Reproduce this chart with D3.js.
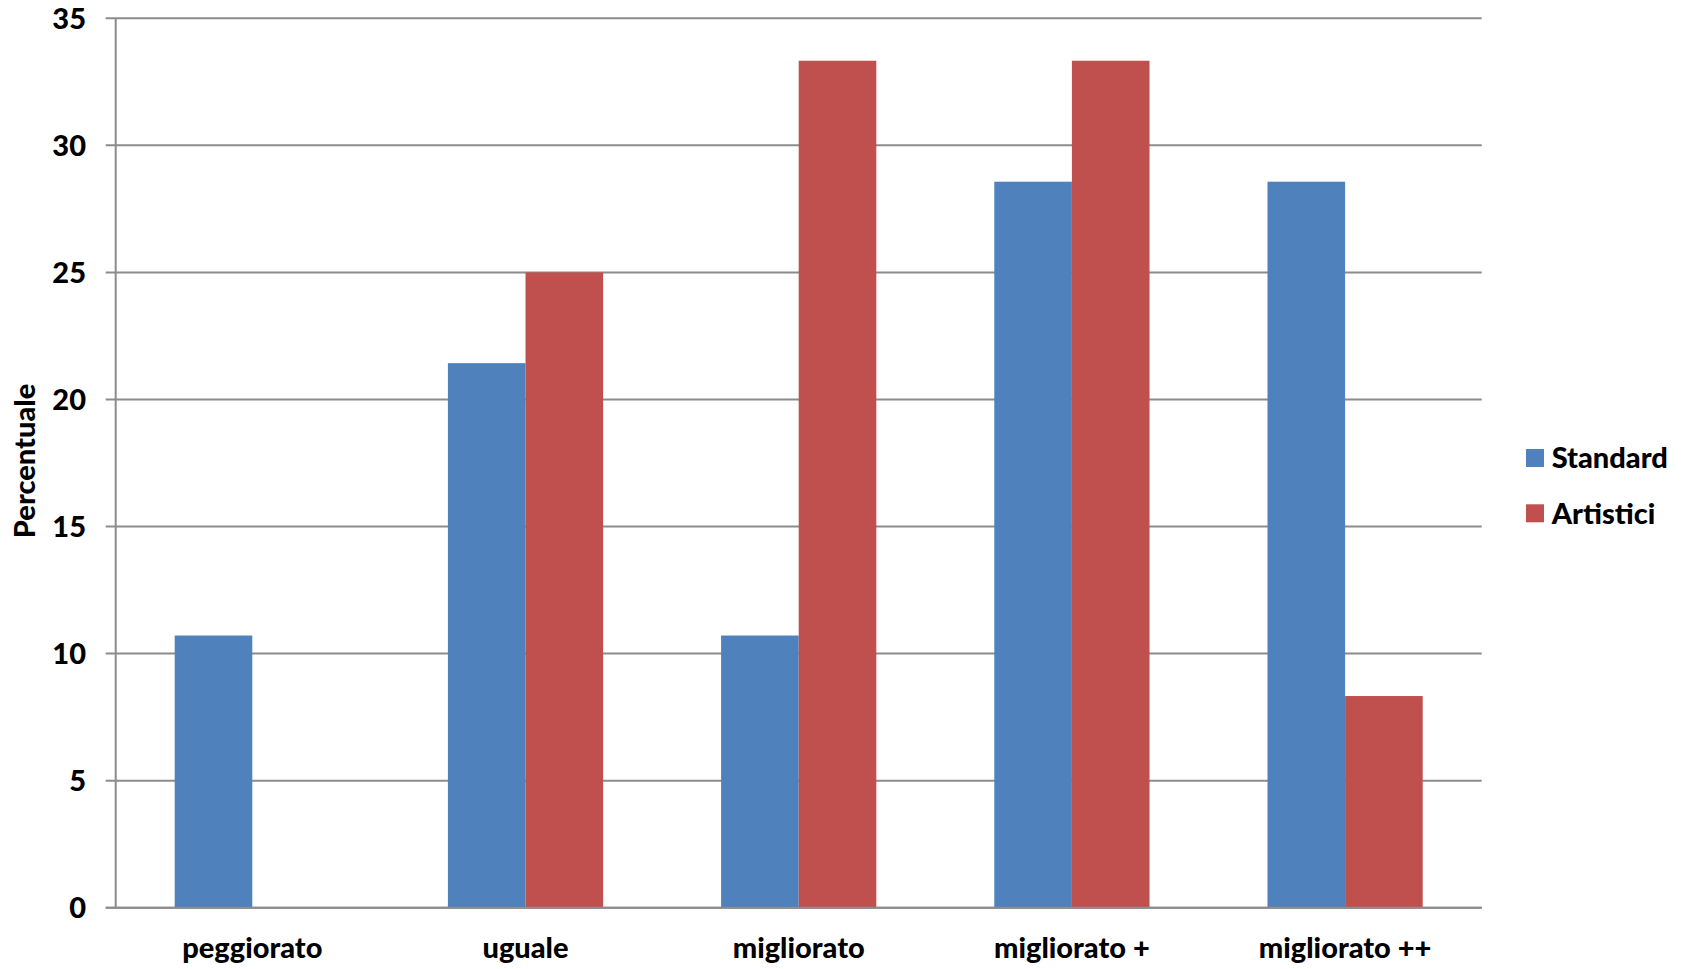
<!DOCTYPE html>
<html><head><meta charset="utf-8">
<script src="https://cdn.jsdelivr.net/npm/d3@7"></script>
<style>body{margin:0;background:#fff}svg{display:block}text{font-family:Lato,"Noto Sans",sans-serif;font-weight:900;fill:#000}</style>
</head><body><svg id="c" width="1691" height="969"></svg>
<script>
const categories = ["peggiorato","uguale","migliorato","migliorato +","migliorato ++"];
const seriesNames = ["Standard","Artistici"];
const standardValues = [10.71, 21.43, 10.71, 28.57, 28.57];
const artisticiValues = [0, 25, 33.33, 33.33, 8.33];
const yTicks = [0,5,10,15,20,25,30,35];
const colors = ["#4F81BD","#C0504D"];

const svg = d3.select("#c");
const L = 115.7, R = 1481.7, T = 18.3, B = 907.7;
const x = d3.scaleBand().domain(categories).range([L,R]).paddingInner(0).paddingOuter(0);
const y = d3.scaleLinear().domain([0,35]).range([B,T]);
const bw = x.bandwidth()/(2+1.52);
const data = categories.map((c,i)=>({c, v:[standardValues[i], artisticiValues[i]]}));

svg.append("g").selectAll("line").data(yTicks).join("line")
  .attr("x1",L-10).attr("x2",R).attr("y1",d=>y(d)).attr("y2",d=>y(d))
  .attr("stroke","#8c8c8c").attr("stroke-width",2);

const g = svg.append("g").selectAll("g").data(data).join("g");
g.selectAll("rect").data(d=>d.v.map((v,k)=>({c:d.c,v,k}))).join("rect")
  .attr("x",d=>x(d.c)+x.bandwidth()/2-bw+d.k*bw)
  .attr("width",bw)
  .attr("y",d=>y(d.v)).attr("height",d=>B-y(d.v))
  .attr("fill",d=>colors[d.k]);

svg.append("line").attr("x1",L).attr("x2",L).attr("y1",T).attr("y2",B+1)
  .attr("stroke","#8c8c8c").attr("stroke-width",2);
svg.append("line").attr("x1",L-10).attr("x2",R).attr("y1",B).attr("y2",B)
  .attr("stroke","#8c8c8c").attr("stroke-width",2);

svg.append("g").selectAll("text").data(yTicks).join("text")
  .attr("x",86).attr("y",d=>y(d)).attr("dy","0.36em").attr("text-anchor","end")
  .style("font-size","29px").text(d=>d);

svg.append("g").selectAll("text").data(categories).join("text")
  .attr("x",d=>x(d)+x.bandwidth()/2).attr("y",958).attr("text-anchor","middle")
  .style("font-size","29px").text(d=>d);

svg.append("text").attr("transform","translate(35,461) rotate(-90)").attr("text-anchor","middle")
  .style("font-size","29px").text("Percentuale");

const lg = svg.append("g").selectAll("g").data(seriesNames).join("g")
  .attr("transform",(d,i)=>`translate(1526,${449+i*55.3})`);
lg.append("rect").attr("width",18).attr("height",18).attr("fill",(d,i)=>colors[i]);
lg.append("text").attr("x",25.7).attr("y",9).attr("dy","0.36em").style("font-size","29px").text(d=>d);
</script></body></html>
